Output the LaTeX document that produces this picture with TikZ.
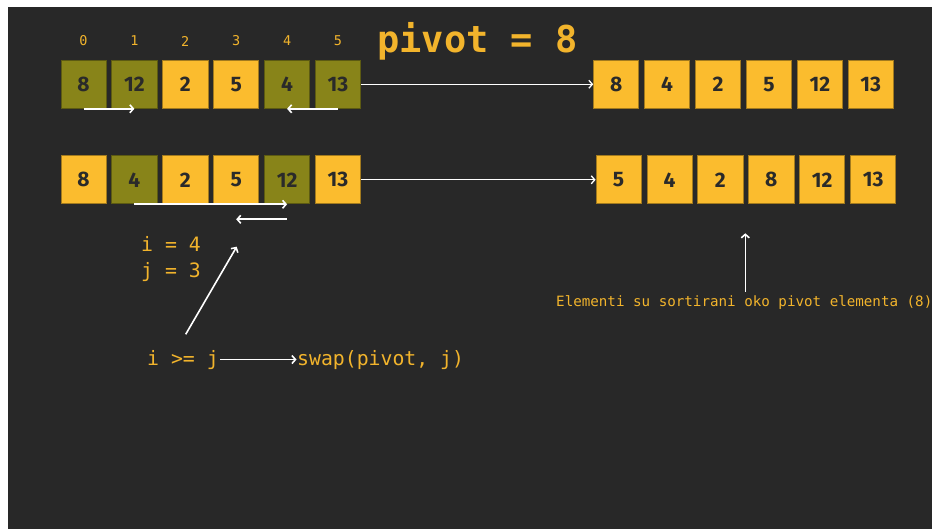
\documentclass[tikz,border=0pt]{standalone}
\usepackage{fontspec}
\usetikzlibrary{arrows.meta}
\newfontfamily\codefont{DejaVu Sans Mono}
\newfontfamily\cellfont{Fira Sans}
\definecolor{bg}{HTML}{282828}
\definecolor{amber}{HTML}{FBBC2E}
\definecolor{amberline}{HTML}{A27A1E}
\definecolor{olivefill}{HTML}{888419}
\definecolor{oliveline}{HTML}{5C5A12}
\definecolor{gold}{HTML}{F2B42C}
\definecolor{ink}{HTML}{2A2A2A}
\begin{document}
\begin{tikzpicture}[x=1pt,y=-1pt,
  cell/.style={draw=amberline, line width=0.8pt, fill=amber,
    minimum width=45.2pt, minimum height=48.2pt, inner sep=0pt,
    font=\cellfont\bfseries\fontsize{21}{25}\selectfont, text=ink},
  plain/.style={},
  hot/.style={fill=olivefill, draw=oliveline},
  idx/.style={text=gold, font=\codefont\fontsize{13.5}{16}\selectfont, inner sep=0pt},
  code/.style={text=gold, font=\codefont\fontsize{19.8}{23}\selectfont, inner sep=0pt, anchor=base west},
  arr/.style={draw=white, line width=1.6pt, -{Straight Barb[length=3.5pt,width=8pt]}}]
  \useasboundingbox (0,0) rectangle (934,529);
  \fill[white] (0,0) rectangle (934,529);
  \fill[bg] (8,7) rectangle (932,529);

  % index labels and title
  \foreach \i in {0,...,5}
    \node[idx] (n\i) at (83.5+50.9*\i, 41) {\i};
  \node[text=gold, font=\codefont\bfseries\fontsize{37}{41}\selectfont,
        inner sep=0pt, anchor=base west] (piv) at (377, 53) {pivot = 8};

  % first step: array and result
  \foreach \v/\s [count=\i from 0] in {8/hot,12/hot,2/plain,5/plain,4/hot,13/hot}
    \node[cell,\s] (a\i) at (83.5+50.9*\i, 84.3) {\v};
  \foreach \v [count=\i from 0] in {8,4,2,5,12,13}
    \node[cell] (b\i) at (616.2+50.9*\i, 84.3) {\v};

  % second step: array and result
  \foreach \v/\s [count=\i from 0] in {8/plain,4/hot,2/plain,5/plain,12/hot,13/plain}
    \node[cell,\s] (c\i) at (83.5+50.9*\i, 179.8) {\v};
  \foreach \v [count=\i from 0] in {5,4,2,8,12,13}
    \node[cell] (d\i) at (618.6+50.9*\i, 179.8) {\v};

  % pointer movements
  \draw[arr] (a0.south) -- (a1.south);
  \draw[arr] (a5.south) -- (a4.south);
  \draw[arr] (c1.south) -- (c4.south);
  \draw[arr] ([yshift=-15pt]c4.south) -- ([yshift=-15pt]c3.south);

  % transitions between steps
  \draw[arr, line width=1.3pt] (a5.east) -- (b0.west);
  \draw[arr, line width=1.3pt] (c5.east) -- (d0.west);

  % state of the indices
  \node[code] (ival) at (141, 252) {i = 4};
  \node[code] (jval) at (141, 278) {j = 3};
  \node[code] (cond) at (147, 365) {i >= j};
  \node[code] (swap) at (297, 365) {swap(pivot, j)};
  \coordinate (jtail) at (185.7, 334.3);
  \coordinate (jtip) at (236.7, 246.7);
  \draw[arr] (jtail) -- (jtip);
  \draw[arr] ([xshift=1.5pt]cond.east) -- ([xshift=-0.5pt]cond.east -| swap.west);

  % note on the partitioned result
  \node[text=gold, font=\codefont\fontsize{14.2}{17}\selectfont, inner sep=0pt,
        anchor=base west] (note) at (556, 306) {Elementi su sortirani oko pivot elementa (8)};
  \coordinate (ntip) at (745.3, 233.3);
  \draw[arr] (note.north -| ntip) ++(0,-3) -- (ntip);
\end{tikzpicture}
\end{document}
